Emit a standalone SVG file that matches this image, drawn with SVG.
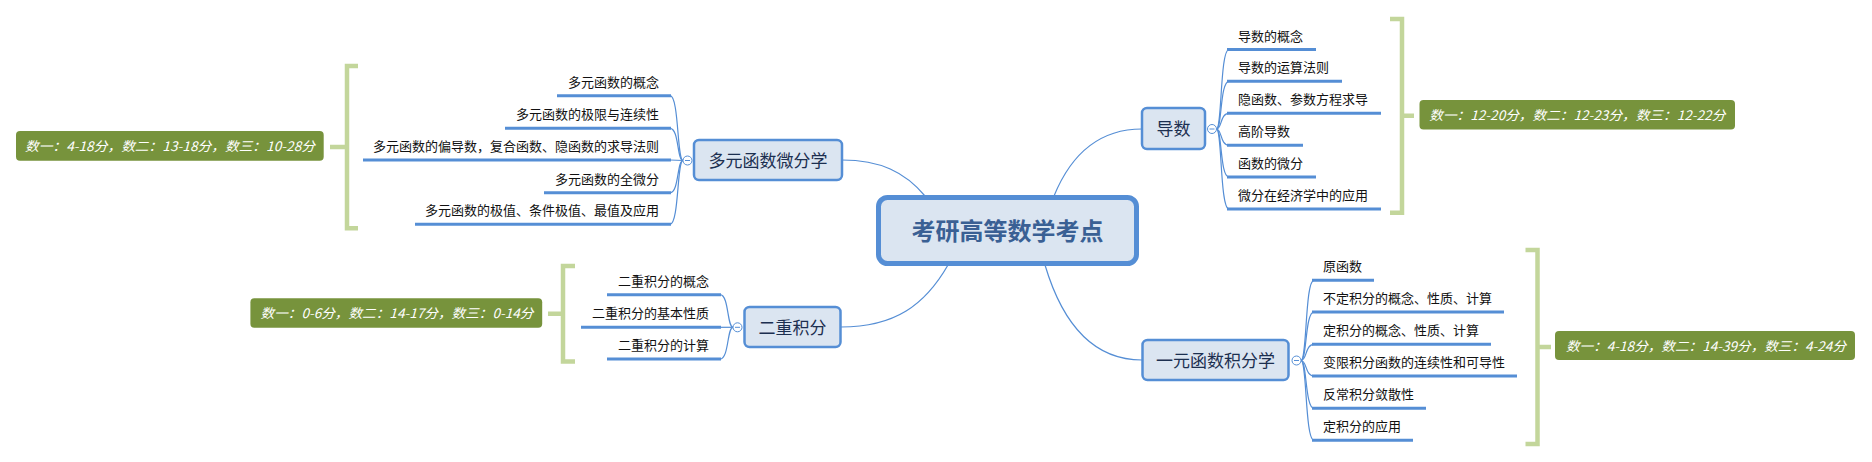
<svg xmlns="http://www.w3.org/2000/svg" width="1872" height="462" viewBox="0 0 1872 462">
<style>
.bg{fill:#ffffff}
.conn{fill:none;stroke:#558ed5;stroke-width:1.2}
.ul{fill:none;stroke:#558ed5;stroke-width:3}
.sub{fill:#dbe5f1;stroke:#558ed5;stroke-width:2.5}
.root{fill:#dbe5f1;stroke:#558ed5;stroke-width:5}
.rootT{font-family:"Noto Sans CJK SC","Noto Sans",sans-serif;font-size:24px;font-weight:bold;fill:#3a6094;text-anchor:middle}
.subT{font-family:"Noto Sans CJK SC","Noto Sans",sans-serif;font-size:17px;fill:#1c2f50;text-anchor:middle}
.leaf{font-family:"Noto Sans CJK SC","Noto Sans",sans-serif;font-size:13px;fill:#111111}
.leafR{font-family:"Noto Sans CJK SC","Noto Sans",sans-serif;font-size:13px;fill:#111111;text-anchor:end}
.brk{fill:none;stroke:#c3d69b;stroke-width:4.5}
.sum{fill:#77933c}
.sumT{font-family:"Noto Sans CJK SC","Noto Sans",sans-serif;font-size:13px;font-style:italic;fill:#ffffff;text-anchor:middle}
.tog{fill:#ffffff;stroke:#558ed5;stroke-width:1}
.togm{stroke:#558ed5;stroke-width:1}
</style>
<rect class="bg" x="0" y="0" width="1872" height="462"/>

<g id="connectors">
  <path class="conn" d="M1054,196 C1072,152 1100,129 1142,129"/>
  <path class="conn" d="M925,196 C905,172 880,160 842,160"/>
  <path class="conn" d="M948,265 C925,305 895,327 841,327"/>
  <path class="conn" d="M1045,265 C1062,322 1092,360 1142,360"/>
  <!-- 导数 branches -->
  <path class="conn" d="M1216.5,129 C1222,129 1220,49.5 1229,49.5"/>
  <path class="conn" d="M1216.5,129 C1222,129 1220,81.3 1229,81.3"/>
  <path class="conn" d="M1216.5,129 C1222,129 1220,113.3 1229,113.3"/>
  <path class="conn" d="M1216.5,129 C1222,129 1220,145.3 1229,145.3"/>
  <path class="conn" d="M1216.5,129 C1222,129 1220,177 1229,177"/>
  <path class="conn" d="M1216.5,129 C1222,129 1220,209 1229,209"/>
  <!-- 多元 branches -->
  <path class="conn" d="M683,160.5 C677,160.5 679,95.7 670,95.7"/>
  <path class="conn" d="M683,160.5 C677,160.5 679,128.3 670,128.3"/>
  <path class="conn" d="M683,160.5 L670,160"/>
  <path class="conn" d="M683,160.5 C677,160.5 679,192.7 670,192.7"/>
  <path class="conn" d="M683,160.5 C677,160.5 679,224.3 670,224.3"/>
  <!-- 二重 branches -->
  <path class="conn" d="M733,327.3 C727,327.3 729,294.7 720,294.7"/>
  <path class="conn" d="M733,327.3 L720,327.3"/>
  <path class="conn" d="M733,327.3 C727,327.3 729,359 720,359"/>
  <!-- 一元 branches -->
  <path class="conn" d="M1301,360.5 C1307,360.5 1305,280.3 1314,280.3"/>
  <path class="conn" d="M1301,360.5 C1307,360.5 1305,312 1314,312"/>
  <path class="conn" d="M1301,360.5 C1307,360.5 1305,344.3 1314,344.3"/>
  <path class="conn" d="M1301,360.5 C1307,360.5 1305,376 1314,376"/>
  <path class="conn" d="M1301,360.5 C1307,360.5 1305,408.3 1314,408.3"/>
  <path class="conn" d="M1301,360.5 C1307,360.5 1305,440.3 1314,440.3"/>
</g>

<g id="root">
  <rect class="root" x="878.5" y="197.5" width="258" height="66" rx="9"/>
  <text class="rootT" x="1007.5" y="240">考研高等数学考点</text>
</g>

<g id="node-daoshu">
  <rect class="sub" x="1142" y="108" width="63" height="41" rx="5"/>
  <text class="subT" x="1173.5" y="135">导数</text>
  <circle class="tog" cx="1212" cy="129" r="4.5"/>
  <line class="togm" x1="1209.5" y1="129" x2="1214.5" y2="129"/>
</g>
<g id="leaves-daoshu">
  <path class="ul" d="M1227,49.5 H1316"/><text class="leaf" x="1238" y="40.5">导数的概念</text>
  <path class="ul" d="M1227,81.3 H1342"/><text class="leaf" x="1238" y="72.3">导数的运算法则</text>
  <path class="ul" d="M1227,113.3 H1381"/><text class="leaf" x="1238" y="104.3">隐函数、参数方程求导</text>
  <path class="ul" d="M1227,145.3 H1303"/><text class="leaf" x="1238" y="136.3">高阶导数</text>
  <path class="ul" d="M1227,177 H1316"/><text class="leaf" x="1238" y="168">函数的微分</text>
  <path class="ul" d="M1227,209 H1381"/><text class="leaf" x="1238" y="200">微分在经济学中的应用</text>
</g>
<g id="summary-daoshu">
  <path class="brk" d="M1390,19 H1402 V212.7 H1390 M1402,115.8 H1414"/>
  <rect class="sum" x="1419.5" y="100" width="315.5" height="29.5" rx="4"/>
  <text class="sumT" x="1577.3" y="120" textLength="296" lengthAdjust="spacingAndGlyphs">数一：12-20分，数二：12-23分，数三：12-22分</text>
</g>

<g id="node-duoyuan">
  <rect class="sub" x="694" y="140" width="148" height="40" rx="5"/>
  <text class="subT" x="768" y="166.5">多元函数微分学</text>
  <circle class="tog" cx="687.5" cy="160.5" r="4.5"/>
  <line class="togm" x1="685" y1="160.5" x2="690" y2="160.5"/>
</g>
<g id="leaves-duoyuan">
  <path class="ul" d="M557,95.7 H671"/><text class="leafR" x="659" y="86.7">多元函数的概念</text>
  <path class="ul" d="M505,128.3 H671"/><text class="leafR" x="659" y="119.3">多元函数的极限与连续性</text>
  <path class="ul" d="M363,160 H671"/><text class="leafR" x="659" y="151">多元函数的偏导数，复合函数、隐函数的求导法则</text>
  <path class="ul" d="M544,192.7 H671"/><text class="leafR" x="659" y="183.7">多元函数的全微分</text>
  <path class="ul" d="M415,224.3 H671"/><text class="leafR" x="659" y="215.3">多元函数的极值、条件极值、最值及应用</text>
</g>
<g id="summary-duoyuan">
  <path class="brk" d="M358,66 H347 V228.3 H358 M347,147 H330"/>
  <rect class="sum" x="16" y="131" width="307.7" height="29.7" rx="4"/>
  <text class="sumT" x="170" y="151" textLength="290" lengthAdjust="spacingAndGlyphs">数一：4-18分，数二：13-18分，数三：10-28分</text>
</g>

<g id="node-erchong">
  <rect class="sub" x="744.5" y="307" width="96" height="40" rx="5"/>
  <text class="subT" x="792.5" y="333.5">二重积分</text>
  <circle class="tog" cx="737.5" cy="327.3" r="4.5"/>
  <line class="togm" x1="735" y1="327.3" x2="740" y2="327.3"/>
</g>
<g id="leaves-erchong">
  <path class="ul" d="M607,294.7 H721"/><text class="leafR" x="709" y="285.7">二重积分的概念</text>
  <path class="ul" d="M581,327.3 H721"/><text class="leafR" x="709" y="318.3">二重积分的基本性质</text>
  <path class="ul" d="M607,359 H721"/><text class="leafR" x="709" y="350">二重积分的计算</text>
</g>
<g id="summary-erchong">
  <path class="brk" d="M575,266 H563 V361.5 H575 M563,313.7 H548"/>
  <rect class="sum" x="250.4" y="298.3" width="291.8" height="29.4" rx="4"/>
  <text class="sumT" x="397" y="318" textLength="273" lengthAdjust="spacingAndGlyphs">数一：0-6分，数二：14-17分，数三：0-14分</text>
</g>

<g id="node-yiyuan">
  <rect class="sub" x="1142.5" y="340" width="146" height="40" rx="5"/>
  <text class="subT" x="1215.5" y="366.5">一元函数积分学</text>
  <circle class="tog" cx="1296.5" cy="360.5" r="4.5"/>
  <line class="togm" x1="1294" y1="360.5" x2="1299" y2="360.5"/>
</g>
<g id="leaves-yiyuan">
  <path class="ul" d="M1312,280.3 H1374"/><text class="leaf" x="1323" y="271.3">原函数</text>
  <path class="ul" d="M1312,312 H1504"/><text class="leaf" x="1323" y="303">不定积分的概念、性质、计算</text>
  <path class="ul" d="M1312,344.3 H1491"/><text class="leaf" x="1323" y="335.3">定积分的概念、性质、计算</text>
  <path class="ul" d="M1312,376 H1517"/><text class="leaf" x="1323" y="367">变限积分函数的连续性和可导性</text>
  <path class="ul" d="M1312,408.3 H1426"/><text class="leaf" x="1323" y="399.3">反常积分敛散性</text>
  <path class="ul" d="M1312,440.3 H1413"/><text class="leaf" x="1323" y="431.3">定积分的应用</text>
</g>
<g id="summary-yiyuan">
  <path class="brk" d="M1525.5,250 H1537.5 V444 H1525.5 M1537.5,347 H1551"/>
  <rect class="sum" x="1555" y="331" width="300" height="29" rx="4"/>
  <text class="sumT" x="1706" y="350.5" textLength="280" lengthAdjust="spacingAndGlyphs">数一：4-18分，数二：14-39分，数三：4-24分</text>
</g>
</svg>
